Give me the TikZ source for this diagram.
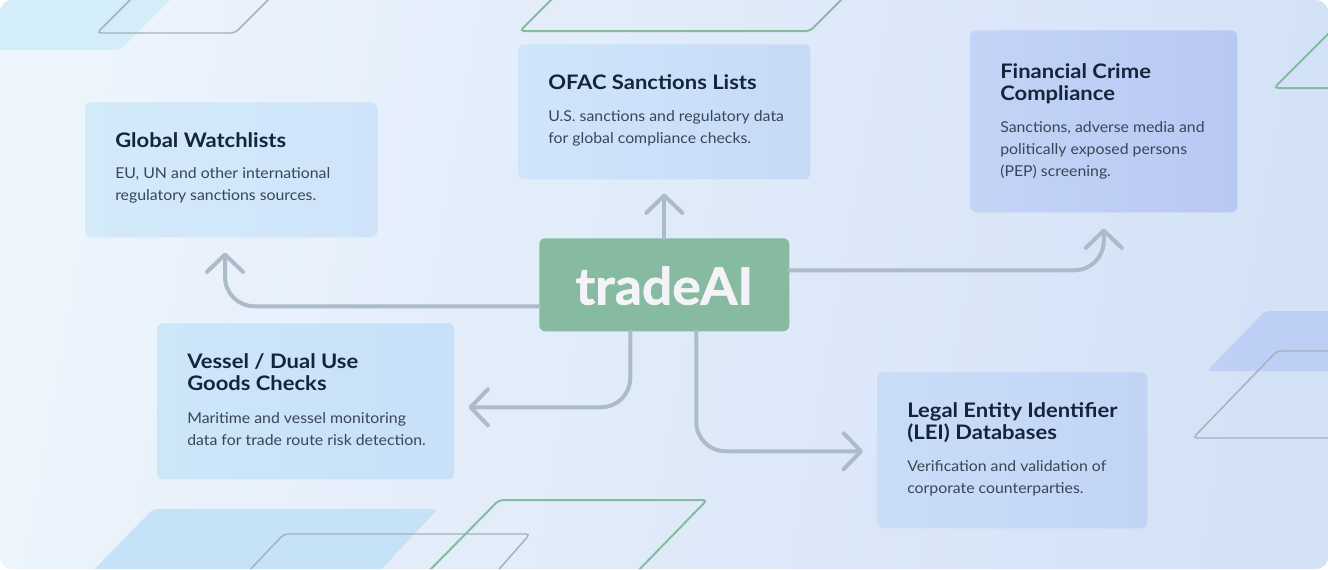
\documentclass[tikz,border=0pt]{standalone}
\usepackage{fontspec}
\usetikzlibrary{arrows.meta,calc}
\setmainfont{Lato}
\newfontfamily\latoT{Lato}[FakeStretch=1.1]
\newfontfamily\latoB{Lato}[FakeStretch=1.06]
\newfontfamily\latoC{Lato}[FakeStretch=1.04,FakeBold=1.2]
\definecolor{bgL}{HTML}{ECF4FC}
\definecolor{bgR}{HTML}{D4E2F7}
\definecolor{arrC}{HTML}{ABBBC8}
\definecolor{coreC}{HTML}{86BBA1}
\definecolor{coreT}{HTML}{F4F4F8}
\definecolor{titleC}{HTML}{14243B}
\definecolor{bodyC}{HTML}{3A4557}
\definecolor{greenL}{HTML}{86BBA1}
\definecolor{greyL}{HTML}{A5B1BD}
\definecolor{cyanF}{HTML}{D3EEF9}
\definecolor{blueF}{HTML}{C6E2F6}
\definecolor{purpF}{HTML}{BCCEF6}
\definecolor{gwL}{HTML}{D3EAFA}
\definecolor{gwR}{HTML}{CFE4FA}
\definecolor{ofL}{HTML}{D0E5FA}
\definecolor{ofR}{HTML}{C6DAF8}
\definecolor{fcL}{HTML}{C3D4F6}
\definecolor{fcR}{HTML}{B8C8F4}
\definecolor{vsL}{HTML}{CDE6F8}
\definecolor{vsR}{HTML}{C8E0F8}
\definecolor{leL}{HTML}{C9DDF8}
\definecolor{leR}{HTML}{C2D4F6}
\newcommand\twolines[1]{\parbox[t]{260pt}{\raggedright #1}}
\tikzset{
  card/.style={anchor=north west, rounded corners=4.5pt, inner sep=0pt, draw=none},
  ttl/.style={anchor=base west, inner sep=0pt, text=titleC,
    font=\latoT\bfseries\fontsize{15pt}{16.5pt}\selectfont},
  bdy/.style={anchor=base west, inner sep=0pt, text=bodyC,
    font=\latoB\fontsize{11.2pt}{16.5pt}\selectfont},
  conn/.style={draw=arrC, line width=3pt, line cap=round, line join=round,
    -{Straight Barb[length=13pt, width=27pt, line cap=round, line join=round]}},
  decoG/.style={draw=greenL, line width=1.5pt, rounded corners=3pt},
  decoY/.style={draw=greyL, line width=1.1pt, rounded corners=3pt},
}
\begin{document}
\begin{tikzpicture}[x=0.75pt,y=-0.75pt]
\useasboundingbox (0,0) rectangle (1328,569);
\fill[white] (0,0) rectangle (1328,569);
\begin{scope}
\clip[rounded corners=9pt] (0,0) rectangle (1328,569);
\shade[left color=bgL, right color=bgR, shading angle=80] (0,0) rectangle (1328,569);
% background decorations
\fill[cyanF, rounded corners=3pt] (-60,-20) -- (190,-20) -- (120,50) -- (-60,50) -- cycle;
\fill[blueF, rounded corners=3pt] (153,509) -- (438,509) -- (376,575) -- (89,575) -- cycle;
\fill[purpF, opacity=0.9, rounded corners=3pt] (1207,371) -- (1265,311) -- (1400,311) -- (1400,371) -- cycle;
\draw[decoY] (97,33) -- (235,33) -- (276,-8) -- (138,-8) -- cycle;
\draw[decoG] (520,31) -- (810,31) -- (849,-8) -- (559,-8) -- cycle;
\draw[decoG] (1274,88) -- (1450,88) -- (1530,8) -- (1354,8) -- cycle;
\draw[decoY] (1193,438) -- (1277,351) -- (1420,351) -- (1420,438) -- cycle;
\draw[decoY] (284,534) -- (530,534) -- (494,575) -- (245,575) -- cycle;
\draw[decoG] (499,500) -- (707,500) -- (634,575) -- (425,575) -- cycle;
\end{scope}
% cards
\node[card, left color=gwL, right color=gwR, minimum width=292*0.75pt, minimum height=135*0.75pt] (gw) at (85,102) {};
\node[card, left color=ofL, right color=ofR, minimum width=292*0.75pt, minimum height=135*0.75pt] (ofac) at (518,44) {};
\node[card, left color=fcL, right color=fcR, minimum width=267*0.75pt, minimum height=182*0.75pt] (fc) at (970,30) {};
\node[card, left color=vsL, right color=vsR, minimum width=297*0.75pt, minimum height=156*0.75pt] (vs) at (157,323) {};
\node[card, left color=leL, right color=leR, minimum width=270*0.75pt, minimum height=156*0.75pt] (lei) at (877,372) {};
% card texts
\node[ttl] (gwt) at ($(gw.north west)+(30,45)$) {Global Watchlists};
\node[bdy] (gwb) at ($(gw.north west)+(30,76)$) {\twolines{EU, UN and other international\\regulatory sanctions sources.}};
\node[ttl] (ofact) at ($(ofac.north west)+(30,45)$) {OFAC Sanctions Lists};
\node[bdy] (ofacb) at ($(ofac.north west)+(30,77)$) {\twolines{U.S. sanctions and regulatory data\\for global compliance checks.}};
\node[ttl] (fct) at ($(fc.north west)+(30,48)$) {\twolines{Financial Crime\\Compliance}};
\node[bdy] (fcb) at ($(fc.north west)+(30,102)$) {\twolines{Sanctions, adverse media and\\politically exposed persons\\(PEP) screening.}};
\node[ttl] (vst) at ($(vs.north west)+(30,45)$) {\twolines{Vessel / Dual Use\\Goods Checks}};
\node[bdy] (vsb) at ($(vs.north west)+(30,100)$) {\twolines{Maritime and vessel monitoring\\data for trade route risk detection.}};
\node[ttl] (leit) at ($(lei.north west)+(30,45)$) {\twolines{Legal Entity Identifier\\(LEI) Databases}};
\node[bdy] (leib) at ($(lei.north west)+(30,99)$) {\twolines{Verification and validation of\\corporate counterparties.}};
% core
\node[card, fill=coreC, minimum width=250*0.75pt, minimum height=93*0.75pt] (core) at (539,238) {};
\node[text=coreT, inner sep=0pt, anchor=base, font=\latoC\bfseries\fontsize{38.5pt}{40pt}\selectfont] (coret) at ($(core.south)+(0,-27)$) {tradeAI};
% connectors
\draw[conn] (core.north) -- ($(ofac.south)+(0,14)$);
\draw[conn, rounded corners=22pt] ($(core.west)+(0,21.5)$) -| ($(gw.south west)+(140,15)$);
\draw[conn, rounded corners=22pt] ($(core.east)+(0,-14.5)$) -| ($(fc.south)+(0,16)$);
\draw[conn, rounded corners=22pt] ($(core.south)+(-34,0)$) |- ($(vs.east)+(14,6)$);
\draw[conn, rounded corners=22pt] ($(core.south)+(32,0)$) |- ($(lei.west)+(-14,1)$);
\end{tikzpicture}
\end{document}
